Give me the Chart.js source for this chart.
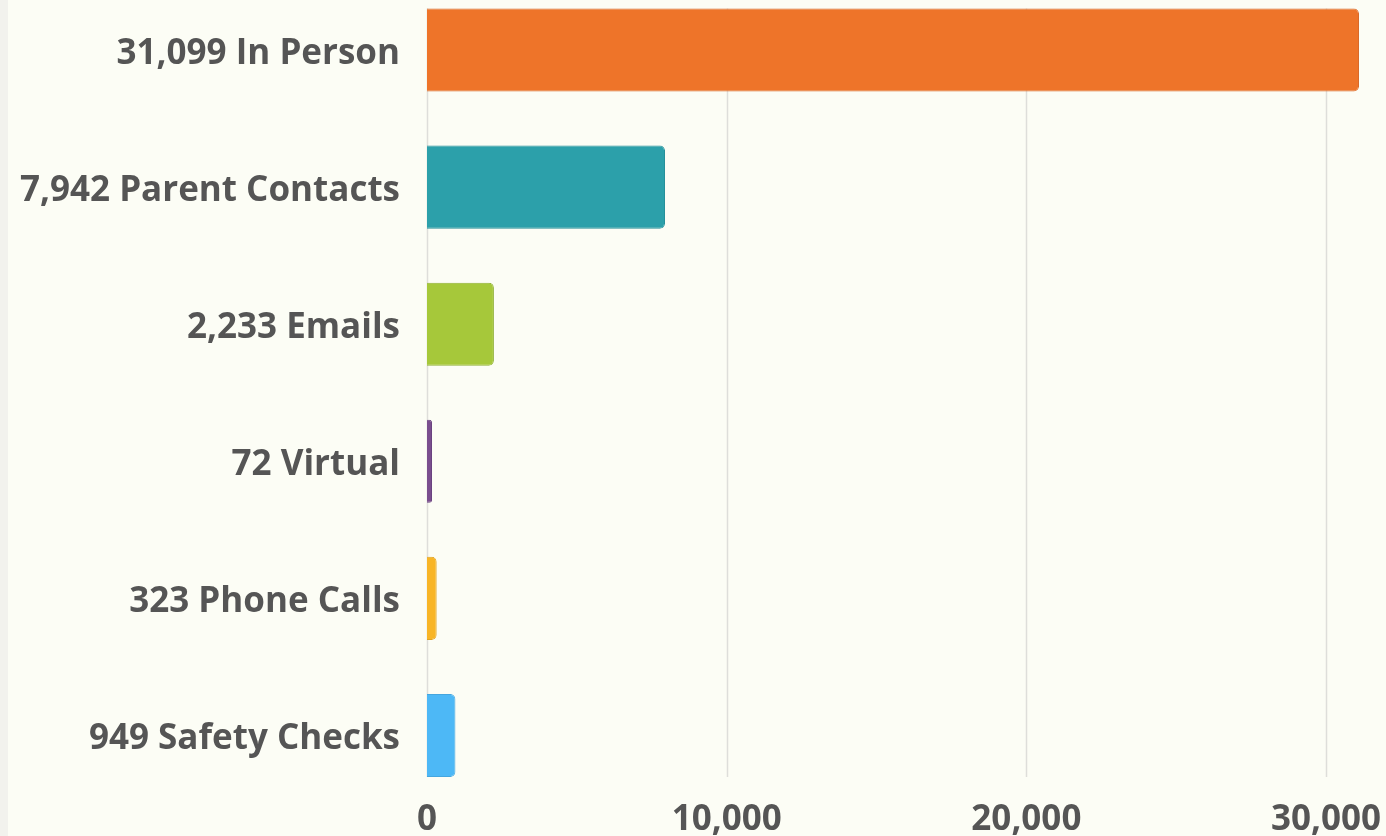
<!DOCTYPE html>
<html>
<head>
<meta charset="utf-8">
<script src="https://cdn.jsdelivr.net/npm/chart.js@4"></script>
<style>
  html, body { margin: 0; padding: 0; }
  body {
    width: 1386px; height: 836px; overflow: hidden;
    background: linear-gradient(to right, #f2f2ed 0, #f2f2ed 8px, #fcfdf5 8px);
  }
  canvas { display: block; }
</style>
</head>
<body>
<canvas id="contactsChart" width="1386" height="836"></canvas>
<script>
// contact counts
var names = ['In Person', 'Parent Contacts', 'Emails', 'Virtual', 'Phone Calls', 'Safety Checks'];
var counts = [31099, 7942, 2233, 72, 323, 949];
var fills = ['#ee7429', '#2ca0aa', '#a6c83a', '#7a4e8e', '#f8b526', '#4db8f6'];
var edges = ['#d8692a', '#27909a', '#8fb033', '#6a4280', '#e0a322', '#45a6df'];
var xTicks = [0, 10000, 20000, 30000];

var labels = names.map(function (n, i) {
  return counts[i].toLocaleString('en-US') + ' ' + n;
});

var tickFont = { family: "'Open Sans', sans-serif", size: 35, weight: 'bold' };

// grid lines only between the first bar top and the last bar bottom
const shortGrid = {
  id: 'shortGrid',
  beforeDatasetsDraw: function (chart) {
    var bars = chart.getDatasetMeta(0).data;
    var first = bars[0], last = bars[bars.length - 1];
    var top = first.y - first.height / 2;
    var bottom = last.y + last.height / 2;
    var x = chart.scales.x;
    var c = chart.ctx;
    c.save();
    c.strokeStyle = '#dededa';
    c.lineWidth = 1.5;
    x.ticks.forEach(function (t) {
      var px = Math.round(x.getPixelForValue(t.value)) + 0.5;
      c.beginPath();
      c.moveTo(px, top);
      c.lineTo(px, bottom);
      c.stroke();
    });
    c.restore();
  }
};

var ctx = document.getElementById('contactsChart');
var contactsChart = new Chart(ctx, {
  type: 'bar',
  data: {
    labels: labels,
    datasets: [{
      data: counts,
      backgroundColor: fills,
      borderColor: edges,
      borderWidth: 1,
      borderRadius: 5,
      borderSkipped: 'start',
      barPercentage: 0.606,
      categoryPercentage: 1,
      minBarLength: 5,
      clip: false
    }]
  },
  plugins: [shortGrid],
  options: {
    indexAxis: 'y',
    responsive: false,
    animation: false,
    layout: { padding: { top: 50, right: 27, bottom: 0, left: 0 } },
    plugins: {
      legend: { display: false },
      tooltip: { enabled: false }
    },
    scales: {
      x: {
        min: 0,
        max: Math.max.apply(null, counts),
        afterBuildTicks: function (scale) {
          scale.ticks = xTicks.map(function (v) { return { value: v }; });
        },
        afterFit: function (scale) {
          scale.height = 100.5;
          scale.paddingLeft = 0;
          scale.paddingRight = 0;
        },
        grid: { display: false, drawTicks: false },
        border: { display: false },
        ticks: {
          color: '#555555',
          font: tickFont,
          padding: 64,
          maxRotation: 0,
          callback: function (v) { return Number(v).toLocaleString('en-US'); }
        }
      },
      y: {
        offset: false,
        grid: { display: false, drawTicks: false },
        border: { display: false },
        afterFit: function (scale) {
          scale.width = 427;
          scale.paddingTop = 0;
          scale.paddingBottom = 0;
        },
        ticks: {
          color: '#555555',
          font: tickFont,
          padding: 27,
          labelOffset: 4
        }
      }
    }
  }
});
</script>
</body>
</html>
